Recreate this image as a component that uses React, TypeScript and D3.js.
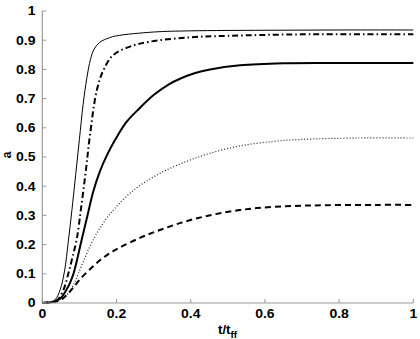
import * as d3 from 'd3';

// x ticks / y ticks
const xTicks = [0, 0.2, 0.4, 0.6, 0.8, 1];
const yTicks = [0, 0.1, 0.2, 0.3, 0.4, 0.5, 0.6, 0.7, 0.8, 0.9, 1];

// thin solid
const tA = [0, 0.02, 0.035, 0.048, 0.06, 0.07, 0.08, 0.09, 0.1, 0.11, 0.12, 0.13, 0.14, 0.155, 0.18, 0.2, 0.3, 0.4, 0.6, 0.8, 1];
const aA = [0, 0.002, 0.012, 0.045, 0.11, 0.21, 0.32, 0.44, 0.56, 0.68, 0.77, 0.835, 0.87, 0.893, 0.908, 0.915, 0.928, 0.932, 0.934, 0.935, 0.935];

// dash-dot
const tB = [0, 0.02, 0.04, 0.057, 0.07, 0.08, 0.093, 0.105, 0.118, 0.128, 0.147, 0.165, 0.191, 0.236, 0.29, 0.4, 0.5, 0.7, 1];
const aB = [0, 0.002, 0.01, 0.045, 0.1, 0.15, 0.22, 0.33, 0.46, 0.57, 0.729, 0.798, 0.849, 0.878, 0.895, 0.91, 0.915, 0.92, 0.92];

// thick solid
const tC = [0, 0.02, 0.04, 0.052, 0.065, 0.075, 0.084, 0.095, 0.106, 0.12, 0.137, 0.155, 0.175, 0.196, 0.227, 0.263, 0.3, 0.34, 0.371, 0.41, 0.452, 0.533, 0.65, 0.8, 1];
const aC = [0, 0.002, 0.008, 0.02, 0.045, 0.07, 0.1, 0.155, 0.216, 0.29, 0.38, 0.45, 0.508, 0.558, 0.62, 0.668, 0.712, 0.748, 0.768, 0.787, 0.8, 0.814, 0.821, 0.822, 0.822];

// dotted
const tD = [0, 0.02, 0.04, 0.055, 0.07, 0.085, 0.097, 0.115, 0.137, 0.165, 0.196, 0.25, 0.317, 0.389, 0.45, 0.533, 0.62, 0.694, 0.85, 1];
const aD = [0, 0.002, 0.008, 0.018, 0.033, 0.065, 0.1, 0.155, 0.216, 0.275, 0.325, 0.39, 0.444, 0.485, 0.512, 0.538, 0.553, 0.56, 0.565, 0.565];

// dashed
const tE = [0, 0.02, 0.04, 0.055, 0.07, 0.085, 0.1, 0.128, 0.156, 0.18, 0.209, 0.263, 0.317, 0.38, 0.443, 0.51, 0.578, 0.67, 0.767, 0.9, 1];
const aE = [0, 0.002, 0.006, 0.015, 0.033, 0.055, 0.079, 0.115, 0.147, 0.169, 0.19, 0.223, 0.25, 0.277, 0.298, 0.314, 0.325, 0.332, 0.335, 0.336, 0.336];

const series = [
  { t: tA, a: aA, width: 1, dash: null, color: '#000' },
  { t: tB, a: aB, width: 2, dash: '6 3 1.5 3', color: '#000' },
  { t: tC, a: aC, width: 2, dash: null, color: '#000' },
  { t: tD, a: aD, width: 1.2, dash: '1 2', color: '#222' },
  { t: tE, a: aE, width: 2, dash: '6 4', color: '#000' },
];

export default function App() {
  const W = 420, H = 339;
  const x = d3.scaleLinear().domain([0, 1]).range([42.3, 413.3]);
  const y = d3.scaleLinear().domain([0, 1]).range([303, 11]);
  const axisColor = '#999';
  const font = '"Liberation Sans", Arial, sans-serif';
  const line = d3.line<[number, number]>()
    .x(d => x(d[0]))
    .y(d => y(d[1]))
    .curve(d3.curveCatmullRom.alpha(0.5));

  // bold label, slightly wider than tall like the original
  const label = (key: string, tx: number, ty: number, txt: string, anchor: string) => (
    <text key={key} transform={`translate(${tx},${ty}) scale(1.12,1)`} textAnchor={anchor}
      fontFamily={font} fontWeight="bold" fontSize={12.5}>{txt}</text>
  );

  return (
    <svg width={W} height={H} style={{ position: 'absolute', left: 0, top: 0, background: '#fff' }}>
      {series.map((s, i) => {
        const pts = s.t.map((t, j) => [t, s.a[j]] as [number, number]);
        return (
          <path key={i} d={line(pts) || ''} fill="none" stroke={s.color}
            strokeWidth={s.width} strokeDasharray={s.dash || undefined} />
        );
      })}

      {/* axes */}
      <line x1={x(0)} x2={x(1)} y1={y(0)} y2={y(0)} stroke={axisColor} strokeWidth={1.2} />
      <line x1={x(0)} x2={x(0)} y1={y(0)} y2={y(1)} stroke={axisColor} strokeWidth={1.2} />
      {xTicks.map(t => (
        <g key={'x' + t}>
          <line x1={x(t)} x2={x(t)} y1={y(0)} y2={y(0) - 4} stroke={axisColor} />
          {label('xl' + t, x(t), 318, String(t), 'middle')}
        </g>
      ))}
      {yTicks.map(t => (
        <g key={'y' + t}>
          <line x1={x(0)} x2={x(0) + 4} y1={y(t)} y2={y(t)} stroke={axisColor} />
          {label('yl' + t, 35.5, y(t) + 4.4, String(t), 'end')}
        </g>
      ))}

      <text transform="translate(10.5,155) rotate(-90)" textAnchor="middle" fontFamily={font}
        fontWeight="bold" fontSize={12}>a</text>
      <text transform="translate(218,334) scale(1.1,1)" fontFamily={font} fontWeight="bold" fontSize={12}>
        t/t<tspan fontSize={9} dy={4}>ff</tspan>
      </text>
    </svg>
  );
}
